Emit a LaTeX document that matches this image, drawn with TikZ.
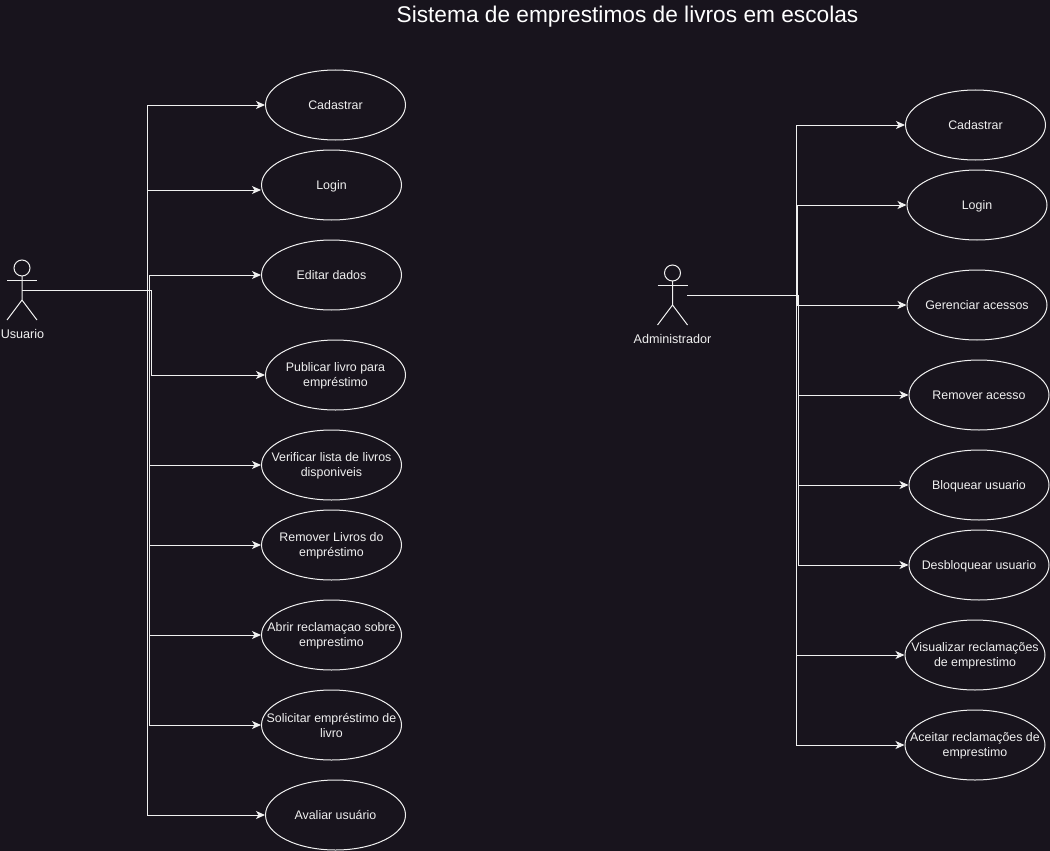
\documentclass[tikz,border=0pt]{standalone}
\usepackage{fontspec}
\setmainfont{Liberation Sans}
\usetikzlibrary{arrows.meta,shapes.geometric}
\definecolor{fundo}{HTML}{18141D}
\definecolor{traco}{HTML}{F0F0F0}

\tikzset{
    usecase/.style={draw=traco, ellipse, line width=1pt, inner xsep=-40pt, inner ysep=0pt, text depth=0pt, minimum width=140pt, minimum height=70pt, align=center, text=traco, font=\fontsize{12.4}{15}\selectfont},
    actorlabel/.style={text=traco, inner sep=0pt, font=\fontsize{12.6}{15}\selectfont},
    link/.style={draw=traco, line width=1pt, -{Stealth[length=9pt,width=8pt,inset=2.5pt]}},
    actor/.pic={
        \draw[traco, line width=1pt] (0,-22) circle (8);
        \draw[traco, line width=1pt] (-15,-10) -- (15,-10);
        \draw[traco, line width=1pt] (0,-14) -- (0,10) (-15,30) -- (0,10) -- (15,30);
    }
}

\begin{document}
\begin{tikzpicture}[x=1pt,y=-1pt]
    \useasboundingbox (0,0) rectangle (1050,851);
    \fill[fundo] (0,0) rectangle (1050,851);

    % Title
    \node[text=white, inner sep=0pt, font=\fontsize{22.7}{27}\selectfont] (title) at (627.5,16.5) {Sistema de emprestimos de livros em escolas};

    % Usuario
    \pic at (22,290) {actor};
    \coordinate (usuario) at (22,290);
    \node[actorlabel] (usuariolabel) at (22.5,334) {Usuario};

    \node[usecase] (cadastrarU) at (335.5,105) {Cadastrar};
    \node[usecase] (loginU) at (331.5,185) {Login};
    \node[usecase] (editar) at (331.5,275) {Editar dados};
    \node[usecase] (publicar) at (335.5,375) {Publicar livro para\\empréstimo};
    \node[usecase] (verificar) at (331.5,465) {Verificar lista de livros\\disponiveis};
    \node[usecase] (removerU) at (331.5,545) {Remover Livros do\\empréstimo};
    \node[usecase] (abrir) at (331.5,635) {Abrir reclamaçao sobre\\emprestimo};
    \node[usecase] (solicitar) at (331.5,725) {Solicitar empréstimo de\\livro};
    \node[usecase] (avaliar) at (335.5,815) {Avaliar usuário};

    \coordinate (troncoA) at (147.5,290);
    \coordinate (troncoB) at (149.5,290);
    \coordinate (troncoC) at (151.5,290);

    \draw[link] (usuario) -- (troncoA) |- (cadastrarU);
    \draw[link] (usuario) -- (troncoA) |- ([yshift=-5pt]loginU.west);
    \draw[link] (usuario) -- (troncoB) |- (editar);
    \draw[link] (usuario) -- (troncoC) |- (publicar);
    \draw[link] (usuario) -- (troncoB) |- (verificar);
    \draw[link] (usuario) -- (troncoB) |- (removerU);
    \draw[link] (usuario) -- (troncoB) |- (abrir);
    \draw[link] (usuario) -- (troncoB) |- (solicitar);
    \draw[link] (usuario) -- (troncoA) |- (avaliar);

    % Administrador
    \pic at (672.5,295) {actor};
    \coordinate (admin) at (687,295);
    \node[actorlabel] (adminlabel) at (672.5,339) {Administrador};

    \node[usecase] (cadastrarA) at (975.5,125) {Cadastrar};
    \node[usecase] (loginA) at (977,205) {Login};
    \node[usecase] (gerenciar) at (977,305) {Gerenciar acessos};
    \node[usecase] (removerA) at (979,395) {Remover acesso};
    \node[usecase] (bloquear) at (979,485) {Bloquear usuario};
    \node[usecase] (desbloquear) at (979,565) {Desbloquear usuario};
    \node[usecase] (visualizar) at (975,655) {Visualizar reclamações\\de emprestimo};
    \node[usecase] (aceitar) at (975,745) {Aceitar reclamações de\\emprestimo};

    \coordinate (troncoD) at (796.5,295);
    \coordinate (troncoE) at (797.5,295);
    \coordinate (troncoF) at (798.5,295);

    \draw[link] (admin) -- (troncoD) |- (cadastrarA);
    \draw[link] (admin) -- (troncoE) |- (loginA);
    \draw[link] (admin) -- (troncoE) |- (gerenciar);
    \draw[link] (admin) -- (troncoF) |- (removerA);
    \draw[link] (admin) -- (troncoF) |- (bloquear);
    \draw[link] (admin) -- (troncoF) |- (desbloquear);
    \draw[link] (admin) -- (troncoD) |- (visualizar);
    \draw[link] (admin) -- (troncoD) |- (aceitar);
\end{tikzpicture}
\end{document}
